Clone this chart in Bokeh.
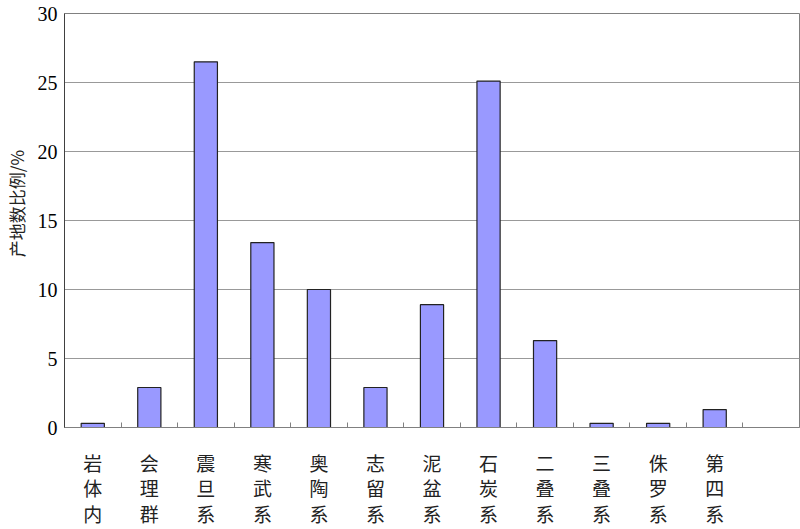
from bokeh.plotting import figure
from bokeh.models import ColumnDataSource, FixedTicker, Range1d
from bokeh.embed import file_html
from bokeh.resources import INLINE

categories = ["岩体内", "会理群", "震旦系", "寒武系", "奥陶系", "志留系",
              "泥盆系", "石炭系", "二叠系", "三叠系", "侏罗系", "第四系"]
values = [0.3, 2.9, 26.5, 13.4, 10.0, 2.9, 8.9, 25.1, 6.3, 0.3, 0.3, 1.3]
y_ticks = [0, 5, 10, 15, 20, 25, 30]
n_slots = 13

xs = [i + 0.5 for i in range(len(categories))]
src = ColumnDataSource(dict(x=xs, top=values))

p = figure(width=800, height=529, output_backend="svg", toolbar_location=None,
           x_range=Range1d(0, n_slots), y_range=Range1d(0, 30),
           min_border_left=62, min_border_right=1, min_border_top=13,
           min_border_bottom=100)

p.vbar(x="x", top="top", width=0.41, source=src, fill_color="#9999FF",
       line_color="#222222", line_width=1.2)

p.outline_line_color = "#808080"
p.background_fill_color = "white"
p.border_fill_color = "white"

# y axis
p.yaxis.ticker = FixedTicker(ticks=y_ticks)
p.yaxis.major_tick_out = 0
p.yaxis.major_tick_in = 0
p.yaxis.minor_tick_out = 0
p.yaxis.minor_tick_in = 0
p.yaxis.axis_line_color = "#404040"
p.yaxis.major_label_text_font = "Liberation Serif"
p.yaxis.major_label_text_font_size = "20px"
p.yaxis.major_label_text_color = "black"
p.yaxis.major_label_standoff = 7
p.yaxis.axis_label = "\u3000\u3000产地数比例/%"
p.yaxis.axis_label_text_font = "Noto Sans CJK SC"
p.yaxis.axis_label_text_font_size = "17px"
p.yaxis.axis_label_text_font_style = "normal"
p.yaxis.axis_label_text_color = "#222222"
p.yaxis.axis_label_standoff = 6
p.ygrid.ticker = FixedTicker(ticks=y_ticks)
p.ygrid.grid_line_color = "#999999"
p.ygrid.grid_line_width = 1

# x axis
p.xaxis.ticker = FixedTicker(ticks=xs, minor_ticks=list(range(1, n_slots)))
p.xaxis.major_label_overrides = {x: "\n".join(c) for x, c in zip(xs, categories)}
p.xaxis.major_tick_in = 0
p.xaxis.major_tick_out = 0
p.xaxis.minor_tick_in = 5
p.xaxis.minor_tick_out = 0
p.xaxis.minor_tick_line_color = "#808080"
p.xaxis.axis_line_color = "#808080"
p.xaxis.major_label_text_font = "Noto Sans CJK SC"
p.xaxis.major_label_text_font_size = "19px"
p.xaxis.major_label_text_line_height = 0.95
p.xaxis.major_label_text_color = "#222222"
p.xaxis.major_label_standoff = 21
p.xgrid.grid_line_color = None

open("out.html", "w").write(file_html(p, INLINE))
